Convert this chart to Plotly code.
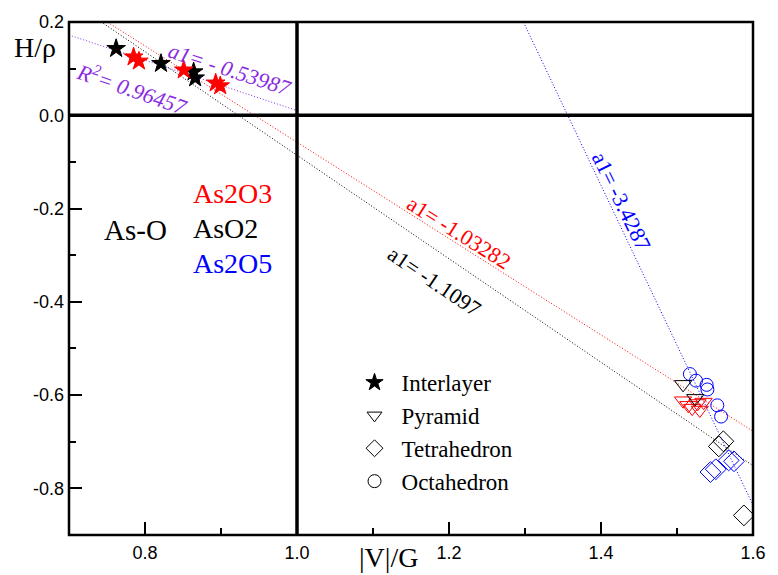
import plotly.graph_objects as go

# ---- data ----
inter_black_x = [0.762, 0.821, 0.864, 0.866]
inter_black_y = [0.143, 0.111, 0.093, 0.080]
inter_red_x = [0.785, 0.792, 0.851, 0.893, 0.899]
inter_red_y = [0.125, 0.116, 0.097, 0.069, 0.063]

pyr_black_x = [1.508, 1.524]
pyr_black_y = [-0.577, -0.607]
pyr_red_x = [1.508, 1.515, 1.520, 1.527, 1.530, 1.535]
pyr_red_y = [-0.612, -0.622, -0.628, -0.618, -0.632, -0.615]

tet_black_x = [1.561, 1.555, 1.588]
tet_black_y = [-0.699, -0.710, -0.858]
tet_blue_x = [1.544, 1.551, 1.568, 1.575]
tet_blue_y = [-0.765, -0.759, -0.740, -0.742]

oct_blue_x = [1.517, 1.525, 1.539, 1.540, 1.553, 1.558]
oct_blue_y = [-0.555, -0.569, -0.578, -0.588, -0.622, -0.646]

# fitted lines: (slope, intercept, x_start, x_end)
fit_purple = (-0.53987, 0.550, 0.70, 1.00)
fit_red = (-1.03282, 0.975, 0.751, 1.60)
fit_black = (-1.1097, 1.024, 0.742, 1.60)
fit_blue = (-3.4287, 4.650, 1.298, 1.60)

x_ticks = [0.8, 1.0, 1.2, 1.4, 1.6]
x_tick_labels = ["0.8", "1.0", "1.2", "1.4", "1.6"]
y_ticks = [0.2, 0.0, -0.2, -0.4, -0.6, -0.8]
y_tick_labels = ["0.2", "0.0", "-0.2", "-0.4", "-0.6", "-0.8"]

PURPLE = "#8a2be2"
SERIF = "Liberation Serif"

W, H = 778, 575
L, R, T, B = 69, 14, 22, 40
pw, ph = W - L - R, H - T - B

def px(xp):
    return (xp - L) / pw

def py(yp):
    return 1 - (yp - T) / ph

fig = go.Figure()

def fit_line(fit, color):
    m, b, x0, x1 = fit
    fig.add_trace(go.Scatter(x=[x0, x1], y=[m * x0 + b, m * x1 + b], mode="lines",
                             line=dict(color=color, width=1, dash="1px,2px"),
                             showlegend=False, hoverinfo="skip"))

fit_line(fit_purple, PURPLE)
fit_line(fit_red, "red")
fit_line(fit_black, "black")
fit_line(fit_blue, "blue")

def pts(x, y, symbol, color, size):
    fig.add_trace(go.Scatter(
        x=x, y=y, mode="markers", showlegend=False,
        marker=dict(symbol=symbol, size=size, color=color,
                    line=dict(color=color, width=1))))

pts(inter_black_x, inter_black_y, "star", "black", 14)
pts(inter_red_x, inter_red_y, "star", "red", 14)
pts(oct_blue_x, oct_blue_y, "circle-open", "blue", 13)
pts(pyr_red_x, pyr_red_y, "triangle-down-open", "red", 15)
pts(pyr_black_x, pyr_black_y, "triangle-down-open", "black", 15)
pts(tet_black_x, tet_black_y, "diamond-open", "black", 16)
pts(tet_blue_x, tet_blue_y, "diamond-open", "blue", 16)

# legend entries
for name, sym in [("Interlayer", "star"), ("Pyramid", "triangle-down-open"),
                  ("Tetrahedron", "diamond-open"), ("Octahedron", "circle-open")]:
    fig.add_trace(go.Scatter(x=[None], y=[None], mode="markers", name=name,
                             marker=dict(symbol=sym, size=13, color="black",
                                         line=dict(color="black", width=1))))

# thick zero lines and frame
fig.add_shape(type="line", xref="x", yref="paper", x0=1.0, x1=1.0, y0=0, y1=1,
              line=dict(color="black", width=3.5))
fig.add_shape(type="line", xref="paper", yref="y", x0=0, x1=1, y0=0, y1=0,
              line=dict(color="black", width=3.5))
fig.add_shape(type="rect", xref="paper", yref="paper", x0=0, x1=1, y0=0, y1=1,
              line=dict(color="black", width=2.5))

ann = []
def text(x, y, s, color, size, angle=0, xanchor="center", italic=False):
    if italic:
        s = "<i>" + s + "</i>"
    ann.append(dict(x=x, y=y, xref="x", yref="y", text=s, showarrow=False,
                    textangle=angle, xanchor=xanchor, yanchor="middle",
                    font=dict(family=SERIF, size=size, color=color)))

text(0.912, 0.099, "a1= - 0.53987", PURPLE, 22, 18, italic=True)
text(0.784, 0.059, "R<sup>2</sup>= 0.96457", PURPLE, 22, 19, italic=True)
text(1.213, -0.252, "a1= -1.03282", "red", 22, 32)
text(1.181, -0.357, "a1= -1.1097", "black", 22, 34)
text(1.427, -0.185, "a1= -3.4287", "blue", 22, 64)
text(0.787, -0.245, "As-O", "black", 29)
text(0.860, -0.168, "As2O3", "red", 28, xanchor="left")
text(0.860, -0.243, "AsO2", "black", 28, xanchor="left")
text(0.860, -0.318, "As2O5", "blue", 28, xanchor="left")

ann.append(dict(x=px(34), y=py(47), xref="paper", yref="paper", text="H/ρ",
                showarrow=False, xanchor="center", yanchor="middle",
                font=dict(family=SERIF, size=28, color="black")))
ann.append(dict(x=px(394), y=py(557), xref="paper", yref="paper", text="|V|/G",
                showarrow=False, xanchor="center", yanchor="middle",
                font=dict(family=SERIF, size=28, color="black")))
fig.update_layout(annotations=ann)

fig.update_layout(
    width=W, height=H, autosize=False, margin=dict(l=L, r=R, t=T, b=B),
    plot_bgcolor="white", paper_bgcolor="white",
    showlegend=True,
    legend=dict(x=px(352), y=py(361), xanchor="left", yanchor="top",
                bgcolor="rgba(0,0,0,0)", font=dict(family=SERIF, size=23, color="black"),
                itemwidth=44),
    xaxis=dict(range=[0.7, 1.6], tickvals=x_ticks, ticktext=x_tick_labels,
               ticks="inside", ticklen=13, tickwidth=2, tickcolor="black",
               minor=dict(dtick=0.1, tick0=0.7, ticks="inside", ticklen=7, tickwidth=2, tickcolor="black"),
               showgrid=False, zeroline=False, showline=False, ticklabelstandoff=5,
               tickfont=dict(family="Liberation Sans", size=18, color="black")),
    yaxis=dict(range=[-0.9, 0.2], tickvals=y_ticks, ticktext=y_tick_labels,
               ticks="inside", ticklen=13, tickwidth=2, tickcolor="black",
               minor=dict(dtick=0.1, tick0=0.0, ticks="inside", ticklen=7, tickwidth=2, tickcolor="black"),
               showgrid=False, zeroline=False, showline=False, ticklabelstandoff=4,
               tickfont=dict(family="Liberation Sans", size=18, color="black")),
)

fig.write_html("out.html", config={"responsive": False})
